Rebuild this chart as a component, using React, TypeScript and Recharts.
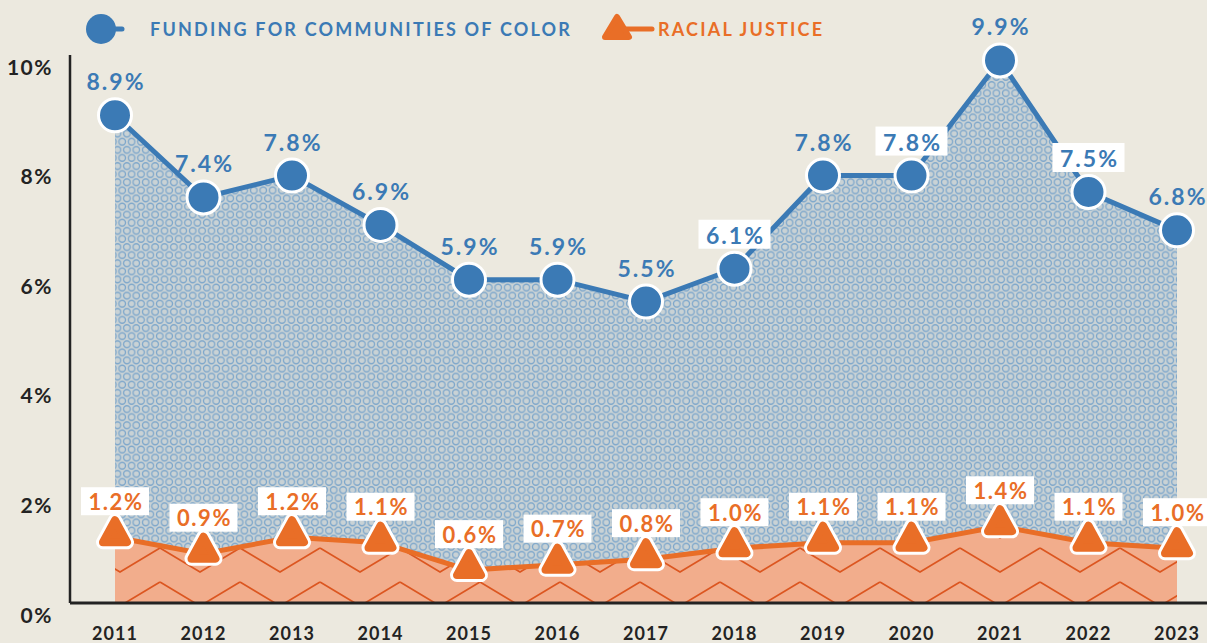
import { ComposedChart, Area, Line, XAxis, YAxis, LabelList } from 'recharts';

const years = ['2011', '2012', '2013', '2014', '2015', '2016', '2017', '2018', '2019', '2020', '2021', '2022', '2023'];
const colorFunding = [8.9, 7.4, 7.8, 6.9, 5.9, 5.9, 5.5, 6.1, 7.8, 7.8, 9.9, 7.5, 6.8];
const racialJustice = [1.2, 0.9, 1.2, 1.1, 0.6, 0.7, 0.8, 1.0, 1.1, 1.1, 1.4, 1.1, 1.0];
const yTicks = [0, 2, 4, 6, 8, 10];
const boxedBlue = [7, 9, 11]; // labels that sit on a white box

const BLUE = '#3b7ab5';
const ORANGE = '#e96e27';
const BG = '#ece9df';
const INK = '#232323';
const FONT = 'Lato, "Open Sans", sans-serif';

const data = years.map((year, i) => ({
  year,
  color: colorFunding[i],
  racial: racialJustice[i],
}));

const fmt = (v: number) => `${v.toFixed(1)}%`;

function CircleDot({ cx, cy }: any) {
  if (cx == null || cy == null) return null;
  return <circle cx={cx} cy={cy} r={16.5} fill={BLUE} stroke="#fff" strokeWidth={3} />;
}

function trianglePoints(cx: number, cy: number) {
  return `${cx},${cy - 17} ${cx + 12},${cy + 5} ${cx - 12},${cy + 5}`;
}

function TriangleDot({ cx, cy }: any) {
  if (cx == null || cy == null) return null;
  const pts = trianglePoints(cx, cy);
  return (
    <g>
      <polygon points={pts} fill="#fff" stroke="#fff" strokeWidth={14} strokeLinejoin="round" />
      <polygon points={pts} fill={ORANGE} stroke={ORANGE} strokeWidth={8} strokeLinejoin="round" />
    </g>
  );
}

function BlueLabel(props: any) {
  const { x, y, value, index } = props;
  const boxed = boxedBlue.includes(index);
  const ly = y - 34;
  return (
    <g>
      {boxed && <rect x={x - 36} y={ly - 15} width={72} height={29} fill="#fff" />}
      <text
        x={x + 1}
        y={ly}
        textAnchor="middle"
        dominantBaseline="central"
        fill={BLUE}
        fontFamily={FONT}
        fontWeight={700}
        fontSize={23}
        letterSpacing={2}
      >
        {fmt(value)}
      </text>
    </g>
  );
}

function OrangeLabel(props: any) {
  const { x, y, value } = props;
  const ly = y - 36;
  return (
    <g>
      <rect x={x - 34} y={ly - 14} width={68} height={28} fill="#fff" />
      <text
        x={x + 1}
        y={ly}
        textAnchor="middle"
        dominantBaseline="central"
        fill={ORANGE}
        fontFamily={FONT}
        fontWeight={700}
        fontSize={22}
        letterSpacing={1.6}
      >
        {fmt(value)}
      </text>
    </g>
  );
}

function YTick({ y, payload }: any) {
  return (
    <text
      x={53}
      y={y + 11}
      textAnchor="end"
      dominantBaseline="central"
      fill={INK}
      fontFamily={FONT}
      fontWeight={700}
      fontSize={21}
      letterSpacing={1.5}
    >
      {payload.value}%
    </text>
  );
}

function XTick({ x, payload }: any) {
  return (
    <text
      x={x}
      y={633}
      textAnchor="middle"
      dominantBaseline="central"
      fill={INK}
      fontFamily={FONT}
      fontWeight={700}
      fontSize={18}
      letterSpacing={1}
    >
      {payload.value}
    </text>
  );
}

function LegendRow() {
  const text = {
    fontFamily: FONT,
    fontWeight: 700,
    fontSize: 18,
    letterSpacing: 2.2,
  } as const;
  return (
    <div style={{ position: 'absolute', top: 0, left: 0, width: 1207, height: 56, pointerEvents: 'none' }}>
      <svg width={1207} height={56} style={{ position: 'absolute', top: 0, left: 0 }}>
        <line x1={103} y1={29} x2={122} y2={29} stroke={BLUE} strokeWidth={5} strokeLinecap="round" />
        <circle cx={101} cy={29} r={15} fill={BLUE} />
        <line x1={615} y1={29} x2={652} y2={29} stroke={ORANGE} strokeWidth={5} strokeLinecap="round" />
        <polygon points="617,17 629,37 605,37" fill={ORANGE} stroke={ORANGE} strokeWidth={6} strokeLinejoin="round" />
        <text x={150} y={29} dominantBaseline="central" fill={BLUE} {...text}>
          FUNDING FOR COMMUNITIES OF COLOR
        </text>
        <text x={658} y={29} dominantBaseline="central" fill={ORANGE} {...text}>
          RACIAL JUSTICE
        </text>
      </svg>
    </div>
  );
}

export default function App() {
  return (
    <div style={{ position: 'absolute', top: 0, left: 0, width: 1207, height: 643, background: BG, overflow: 'hidden' }}>
      <ComposedChart width={1207} height={643} data={data} margin={{ top: 55, right: 0, bottom: 0, left: 0 }}>
        <defs>
          <pattern id="circles" width={9.4} height={16.2} patternUnits="userSpaceOnUse">
            <rect width={9.4} height={16.2} fill="#c9d2d5" />
            <circle cx={4.7} cy={4.05} r={3.3} fill="none" stroke="#7ea7cb" strokeWidth={1.3} />
            <circle cx={0} cy={12.15} r={3.3} fill="none" stroke="#7ea7cb" strokeWidth={1.3} />
            <circle cx={9.4} cy={12.15} r={3.3} fill="none" stroke="#7ea7cb" strokeWidth={1.3} />
          </pattern>
          <pattern id="zigzag" width={80} height={34} patternUnits="userSpaceOnUse">
            <rect width={80} height={34} fill="#f2ad8c" />
            <polyline points="0,4 40,28 80,4" fill="none" stroke="#dc5620" strokeWidth={1.7} />
            <polyline points="0,38 40,62 80,38" fill="none" stroke="#dc5620" strokeWidth={1.7} />
            <polyline points="0,-30 40,-6 80,-30" fill="none" stroke="#dc5620" strokeWidth={1.7} />
          </pattern>
        </defs>
        <XAxis
          dataKey="year"
          height={40}
          padding={{ left: 45, right: 30 }}
          axisLine={{ stroke: INK, strokeWidth: 3 }}
          tickLine={false}
          tick={<XTick />}
          interval={0}
        />
        <YAxis
          width={70}
          domain={[0, 10]}
          ticks={yTicks}
          axisLine={{ stroke: INK, strokeWidth: 2.5 }}
          tickLine={false}
          tick={<YTick />}
        />
        <Area
          type="linear"
          dataKey="color"
          stroke="none"
          fill="url(#circles)"
          fillOpacity={1}
          baseValue={0}
          isAnimationActive={false}
        />
        <Area
          type="linear"
          dataKey="racial"
          stroke="none"
          fill="url(#zigzag)"
          fillOpacity={1}
          baseValue={0}
          isAnimationActive={false}
        />
        <Line
          type="linear"
          dataKey="racial"
          stroke={ORANGE}
          strokeWidth={5}
          dot={<TriangleDot />}
          activeDot={false}
          isAnimationActive={false}
        >
          <LabelList dataKey="racial" content={<OrangeLabel />} />
        </Line>
        <Line
          type="linear"
          dataKey="color"
          stroke={BLUE}
          strokeWidth={5}
          dot={<CircleDot />}
          activeDot={false}
          isAnimationActive={false}
        >
          <LabelList dataKey="color" content={<BlueLabel />} />
        </Line>
      </ComposedChart>
      <LegendRow />
    </div>
  );
}
